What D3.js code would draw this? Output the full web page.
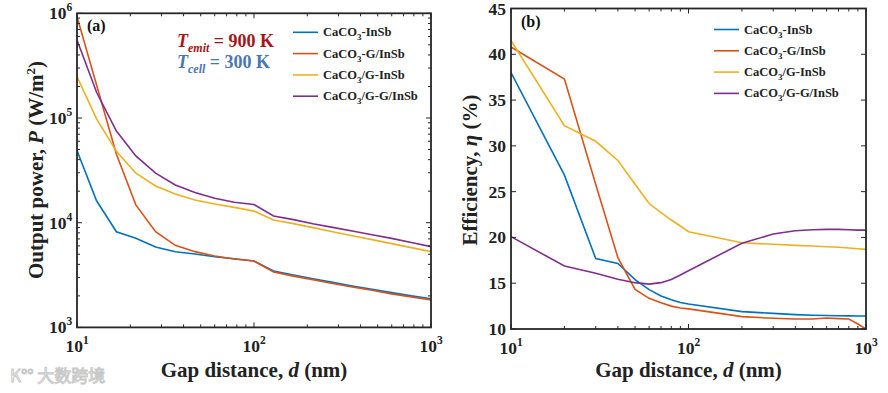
<!DOCTYPE html>
<html>
<head>
<meta charset="utf-8">
<script src="https://cdn.jsdelivr.net/npm/d3@7/dist/d3.min.js"></script>
<style>
  body { margin: 0; background: #fff; }
  svg { display: block; }
  text { font-family: "Liberation Serif", "Times New Roman", serif; font-weight: bold; }
</style>
</head>
<body>
<svg id="chart" width="888" height="393"></svg>
<script>
// series names and colours (MATLAB default order)
const seriesNames = ["CaCO3-InSb", "CaCO3-G/InSb", "CaCO3/G-InSb", "CaCO3/G-G/InSb"];
const seriesColors = ["#0072BD", "#D95319", "#EDB120", "#7E2F8E"];

// (a) output power, W/m^2, sampled on a log grid of gap distance
const gapPower = [10, 12.9, 16.7, 21.5, 27.8, 35.9, 46.4, 59.9, 77.4, 100, 129, 167, 215, 278, 359, 464, 599, 774, 1000];
const powerInSb = [49000, 16200, 8200, 7100, 5860, 5280, 5020, 4730, 4530, 4300, 3460, 3160, 2920, 2690, 2490, 2310, 2150, 2000, 1880];
const powerG_InSb = [930000, 207000, 45000, 14800, 8200, 6080, 5290, 4810, 4500, 4300, 3380, 3090, 2850, 2630, 2430, 2260, 2090, 1950, 1830];
const powerGInSb = [248000, 98000, 48000, 29700, 22400, 18800, 16500, 15100, 14000, 12900, 10600, 9800, 8970, 8200, 7520, 6890, 6310, 5780, 5290];
const powerGGInSb = [556000, 176000, 75000, 43400, 29700, 22900, 19400, 17100, 15700, 14900, 11600, 10700, 9770, 9020, 8320, 7670, 7080, 6460, 5900];

// (b) efficiency, %
const gapEff = [10, 20, 30, 40, 50, 60, 70, 80, 90, 100, 200, 300, 400, 500, 600, 700, 800, 900, 1000];
const effInSb = [38.0, 26.8, 17.7, 17.15, 15.4, 14.3, 13.6, 13.2, 12.9, 12.73, 11.9, 11.71, 11.57, 11.5, 11.47, 11.44, 11.43, 11.42, 11.42];
const effG_InSb = [40.8, 37.3, 25.8, 17.8, 14.33, 13.35, 12.87, 12.5, 12.3, 12.2, 11.35, 11.17, 11.09, 11.09, 11.2, 11.13, 11.09, 10.55, 10.0];
const effGInSb = [41.5, 32.2, 30.5, 28.4, 25.8, 23.7, 22.7, 21.9, 21.25, 20.62, 19.42, 19.25, 19.13, 19.06, 18.99, 18.92, 18.84, 18.77, 18.7];
const effGGInSb = [20.08, 16.88, 16.08, 15.43, 15.06, 14.9, 15.06, 15.4, 15.9, 16.37, 19.36, 20.37, 20.73, 20.84, 20.88, 20.88, 20.84, 20.8, 20.8];

const xDecades = [10, 100, 1000];
const powerDecades = [1e3, 1e4, 1e5, 1e6];
const effTicks = [10, 15, 20, 25, 30, 35, 40, 45];

const svg = d3.select("#chart");
const axisColor = "#262626";

// minor ticks for log axes: 2..9 in each decade
function logMinor(lo, hi) {
  const out = [];
  for (let dec = lo; dec < hi; dec *= 10)
    for (let m = 2; m <= 9; m++) out.push(dec * m);
  return out;
}

function powerLabel(sel, exp) {
  sel.append("tspan").text("10");
  sel.append("tspan").attr("dy", -8).attr("font-size", 11.5).text(exp);
}

function drawPanel(opt) {
  const { x, y, left, right, top, bottom } = opt;
  const g = svg.append("g");

  const clipId = "clip" + opt.id;
  svg.append("clipPath").attr("id", clipId)
    .append("rect").attr("x", left).attr("y", top).attr("width", right - left).attr("height", bottom - top);

  // lines
  const line = d3.line().x(d => x(d[0])).y(d => y(d[1]));
  opt.series.forEach((vals, i) => {
    g.append("path")
      .datum(opt.gaps.map((d, j) => [d, vals[j]]))
      .attr("d", line)
      .attr("fill", "none")
      .attr("stroke", seriesColors[i])
      .attr("stroke-width", 1.6)
      .attr("clip-path", `url(#${clipId})`);
  });

  // ticks on all four sides, pointing in
  const tg = g.append("g").attr("stroke", axisColor).attr("stroke-width", 1);
  const xMajor = xDecades, xMinor = logMinor(10, 1000);
  [[xMajor, 5], [xMinor, 3]].forEach(([ts, len]) => {
    ts.forEach(t => {
      const px = x(t);
      tg.append("line").attr("x1", px).attr("x2", px).attr("y1", bottom).attr("y2", bottom - len);
      tg.append("line").attr("x1", px).attr("x2", px).attr("y1", top).attr("y2", top + len);
    });
  });
  opt.yTicks.forEach(([t, len]) => {
    const py = y(t);
    tg.append("line").attr("x1", left).attr("x2", left + len).attr("y1", py).attr("y2", py);
    tg.append("line").attr("x1", right).attr("x2", right - len).attr("y1", py).attr("y2", py);
  });

  // frame
  g.append("rect").attr("x", left).attr("y", top).attr("width", right - left).attr("height", bottom - top)
    .attr("fill", "none").attr("stroke", axisColor).attr("stroke-width", 1.8);

  // x tick labels
  xMajor.forEach((t, i) => {
    const tx = g.append("text").attr("x", x(t)).attr("y", bottom + 25)
      .attr("text-anchor", "middle").attr("font-size", 17.5).attr("fill", "#222");
    powerLabel(tx, i + 1);
  });
  opt.yLabels(g);

  // x title
  const xt = g.append("text").attr("x", (left + right) / 2).attr("y", 377)
    .attr("text-anchor", "middle").attr("font-size", 21).attr("fill", "#222");
  xt.append("tspan").text("Gap distance, ");
  xt.append("tspan").attr("font-style", "italic").text("d");
  xt.append("tspan").text(" (nm)");

  // panel label
  g.append("text").attr("x", left + 10).attr("y", top + 18).attr("font-size", 16).attr("fill", "#111").text(opt.tag);

  // legend
  const lg = g.append("g");
  seriesNames.forEach((name, i) => {
    const ly = opt.legendY + i * 21.3;
    lg.append("line").attr("x1", opt.legendX).attr("x2", opt.legendX + 25)
      .attr("y1", ly).attr("y2", ly).attr("stroke", seriesColors[i]).attr("stroke-width", 1.6);
    const t = lg.append("text").attr("x", opt.legendX + 30).attr("y", ly + 4)
      .attr("font-size", 12.5).attr("fill", "#222");
    t.append("tspan").text("CaCO");
    t.append("tspan").attr("dy", 4).attr("font-size", 9).text("3");
    t.append("tspan").attr("dy", -4).text(name.slice(5));
  });
  return g;
}

// ---- panel (a)
const xA = d3.scaleLog().domain([10, 1000]).range([77, 431]);
const yA = d3.scaleLog().domain([1e3, 1e6]).range([327.4, 13.3]);
const gA = drawPanel({
  id: "a", x: xA, y: yA, left: 77, right: 431, top: 13.3, bottom: 327.4,
  gaps: gapPower, series: [powerInSb, powerG_InSb, powerGInSb, powerGGInSb],
  yTicks: powerDecades.map(t => [t, 5]).concat(logMinor(1e3, 1e6).map(t => [t, 3])),
  yLabels: g => {
    powerDecades.forEach((t, i) => {
      const tx = g.append("text").attr("x", 49).attr("y", yA(t) + 6)
        .attr("font-size", 17.5).attr("fill", "#222");
      powerLabel(tx, i + 3);
    });
    const yt = g.append("text").attr("transform", "translate(43,170) rotate(-90)")
      .attr("text-anchor", "middle").attr("font-size", 21).attr("fill", "#222");
    yt.append("tspan").text("Output power, ");
    yt.append("tspan").attr("font-style", "italic").text("P");
    yt.append("tspan").text(" (W/m");
    yt.append("tspan").attr("dy", -8).attr("font-size", 13).text("2");
    yt.append("tspan").attr("dy", 8).text(")");
  },
  tag: "(a)", legendX: 293, legendY: 32.3
});

// temperature annotation
const tEmit = gA.append("text").attr("x", 177).attr("y", 47).attr("font-size", 18).attr("fill", "#A4161A");
tEmit.append("tspan").attr("font-style", "italic").text("T");
tEmit.append("tspan").attr("font-style", "italic").attr("dy", 5).attr("font-size", 12).text("emit");
tEmit.append("tspan").attr("dy", -5).text(" = 900 K");
const tCell = gA.append("text").attr("x", 177).attr("y", 68).attr("font-size", 18).attr("fill", "#4A77B4");
tCell.append("tspan").attr("font-style", "italic").text("T");
tCell.append("tspan").attr("font-style", "italic").attr("dy", 5).attr("font-size", 12).text("cell");
tCell.append("tspan").attr("dy", -5).text(" = 300 K");

// ---- panel (b)
const xB = d3.scaleLog().domain([10, 1000]).range([511, 866]);
const yB = d3.scaleLinear().domain([10, 45]).range([329, 8.5]);
drawPanel({
  id: "b", x: xB, y: yB, left: 511, right: 866, top: 8.5, bottom: 329,
  gaps: gapEff, series: [effInSb, effG_InSb, effGInSb, effGGInSb],
  yTicks: effTicks.map(t => [t, 5]),
  yLabels: g => {
    effTicks.forEach(t => {
      g.append("text").attr("x", 506).attr("y", yB(t) + 6).attr("text-anchor", "end")
        .attr("font-size", 17.5).attr("fill", "#222").text(t);
    });
    const yt = g.append("text").attr("transform", "translate(477,170) rotate(-90)")
      .attr("text-anchor", "middle").attr("font-size", 21).attr("fill", "#222");
    yt.append("tspan").text("Efficiency, ");
    yt.append("tspan").attr("font-style", "italic").text("η");
    yt.append("tspan").text(" (%)");
  },
  tag: "(b)", legendX: 714, legendY: 29.5
});

// watermark
svg.append("text").attr("x", 10).attr("y", 382)
  .style("font-family", "'Noto Sans CJK SC', sans-serif").style("font-weight", "normal")
  .attr("font-size", 17).attr("fill", "#fff").attr("stroke", "#c8c8c8").attr("stroke-width", 1)
  .text("K°° 大数跨境");
</script>
</body>
</html>
